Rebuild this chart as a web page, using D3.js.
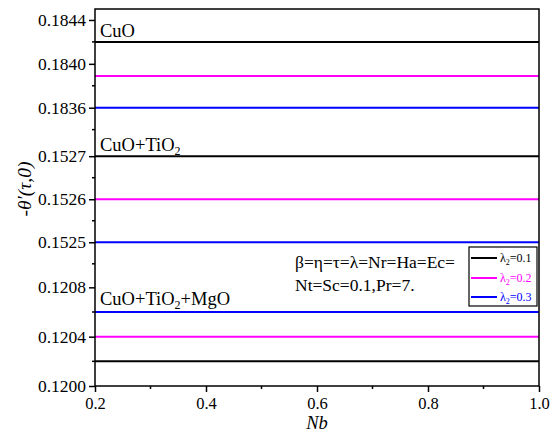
<!DOCTYPE html>
<html>
<head>
<meta charset="utf-8">
<script src="https://cdn.jsdelivr.net/npm/d3@7"></script>
<style>
    body { margin: 0; background: #fff; }
    svg text { font-family: "Liberation Serif", "Times New Roman", Times, serif !important; }
</style>
</head>
<body>
<div class="chart"></div>
<script>
const nb = [0.2, 0.4, 0.6, 0.8, 1.0];
const lambdas = ["0.1", "0.2", "0.3"];
const fluids = ["CuO", "CuO+TiO2", "CuO+TiO2+MgO"];

// -θ'(τ,0) for λ2 = 0.1, 0.2, 0.3
const cuo = [
    [0.18420, 0.18420, 0.18420, 0.18420, 0.18420],
    [0.18389, 0.18389, 0.18389, 0.18389, 0.18389],
    [0.18360, 0.18360, 0.18360, 0.18360, 0.18360]
];
const cuoTio2 = [
    [0.15270, 0.15270, 0.15270, 0.15270, 0.15270],
    [0.15260, 0.15260, 0.15260, 0.15260, 0.15260],
    [0.15250, 0.15250, 0.15250, 0.15250, 0.15250]
];
const cuoTio2Mgo = [
    [0.12020, 0.12020, 0.12020, 0.12020, 0.12020],
    [0.12040, 0.12040, 0.12040, 0.12040, 0.12040],
    [0.12060, 0.12060, 0.12060, 0.12060, 0.12060]
];

const segTicks = [
    ["0.1844", "0.1840", "0.1836"],
    ["0.1527", "0.1526", "0.1525"],
    ["0.1208", "0.1204", "0.1200"]
];
const segMinor = [
    [0.1842, 0.1838, 0.1834],
    [0.15265, 0.15255, 0.15245],
    [0.1206, 0.1202]
];
const xTicks = [0.2, 0.4, 0.6, 0.8, 1.0];
const xMinor = [0.3, 0.5, 0.7, 0.9];
const colors = ["#000000", "#ff00ff", "#0000ff"];

const width = 550, height = 435;
const pLeft = 95, pRight = 539, pTop = 9, pBottom = 386;

const svg = d3.select(".chart").append("svg")
    .attr("width", width).attr("height", height);

const x = d3.scaleLinear().domain([0.2, 1.0]).range([pLeft, pRight]);

const segments = [
    { data: cuo, y: d3.scaleLinear().domain([0.18326, 0.18450]).range([145, pTop]) },
    { data: cuoTio2, y: d3.scaleLinear().domain([0.152424, 0.152726]).range([275, 145]) },
    { data: cuoTio2Mgo, y: d3.scaleLinear().domain([0.1200, 0.12090]).range([pBottom, 275]) }
];

const line = y => d3.line().x((d, i) => x(nb[i])).y(d => y(d));

segments.forEach((seg, si) => {
    seg.data.forEach((vals, k) => {
        svg.append("path")
            .datum(vals)
            .attr("d", line(seg.y))
            .attr("fill", "none")
            .attr("stroke", colors[k])
            .attr("stroke-width", 2);
    });

    const axis = d3.axisLeft(seg.y)
        .tickValues(segTicks[si].map(Number))
        .tickFormat((d, i) => segTicks[si][i])
        .tickSize(6)
        .tickPadding(3)
        .tickSizeOuter(0);
    const g = svg.append("g")
        .attr("transform", `translate(${pLeft},0)`)
        .call(axis)
        .attr("font-family", null);
    g.select(".domain").remove();
    g.selectAll("text").attr("font-size", 17.5).attr("fill", "#000");
    g.selectAll("line").attr("stroke-width", 1.5);

    svg.append("g").selectAll("line")
        .data(segMinor[si])
        .enter().append("line")
        .attr("x1", pLeft - 3).attr("x2", pLeft)
        .attr("y1", d => seg.y(d)).attr("y2", d => seg.y(d))
        .attr("stroke", "#000").attr("stroke-width", 1.5);
});

// x axis
const xg = svg.append("g")
    .attr("transform", `translate(0,${pBottom})`)
    .call(d3.axisBottom(x).tickValues(xTicks).tickFormat(d3.format(".1f")).tickSize(6).tickPadding(5).tickSizeOuter(0))
    .attr("font-family", null);
xg.select(".domain").remove();
xg.selectAll("text").attr("font-size", 16.5).attr("fill", "#000").attr("dy", "0.7em");
xg.selectAll("line").attr("stroke-width", 1.5);
svg.append("g").selectAll("line")
    .data(xMinor).enter().append("line")
    .attr("x1", d => x(d)).attr("x2", d => x(d))
    .attr("y1", pBottom).attr("y2", pBottom + 3)
    .attr("stroke", "#000").attr("stroke-width", 1.5);

// frame
svg.append("rect")
    .attr("x", pLeft).attr("y", pTop)
    .attr("width", pRight - pLeft).attr("height", pBottom - pTop)
    .attr("fill", "none").attr("stroke", "#000").attr("stroke-width", 1.5);

// fluid labels
const labelY = [37, 151, 305];
const label = svg.append("g").attr("font-size", 18.5);
label.append("text").attr("x", 100).attr("y", labelY[0]).text("CuO");
let t = label.append("text").attr("x", 100).attr("y", labelY[1]);
t.append("tspan").text("CuO+TiO");
t.append("tspan").attr("font-size", 12).attr("dy", 4).text("2");
t = label.append("text").attr("x", 100).attr("y", labelY[2]);
t.append("tspan").text("CuO+TiO");
t.append("tspan").attr("font-size", 12).attr("dy", 4).text("2");
t.append("tspan").attr("dy", -4).text("+MgO");

// axis titles
svg.append("text")
    .attr("x", x(0.6)).attr("y", 429)
    .attr("text-anchor", "middle")
    .attr("font-size", 18.5).attr("font-style", "italic")
    .text("Nb");

svg.append("text")
    .attr("transform", "translate(31,189) rotate(-90)")
    .attr("text-anchor", "middle")
    .attr("font-size", 19.5)
    .attr("font-style", "italic")
    .text("-θ′(τ,0)");

// parameters note
const note = svg.append("g").attr("font-size", 17.5);
note.append("text").attr("x", 295).attr("y", 268).text("β=η=τ=λ=Nr=Ha=Ec=");
note.append("text").attr("x", 295).attr("y", 291).text("Nt=Sc=0.1,Pr=7.");

// legend
const lg = svg.append("g");
lg.append("rect")
    .attr("x", 469).attr("y", 247).attr("width", 68).attr("height", 59)
    .attr("fill", "#fff").attr("stroke", "#000").attr("stroke-width", 1.2);
const legendY = [258, 278, 297];
lambdas.forEach((lam, k) => {
    lg.append("line")
        .attr("x1", 471).attr("x2", 497)
        .attr("y1", legendY[k]).attr("y2", legendY[k])
        .attr("stroke", colors[k]).attr("stroke-width", 2);
    const tx = lg.append("text")
        .attr("x", 500).attr("y", legendY[k] + 4)
        .attr("font-size", 12).attr("fill", colors[k]);
    tx.append("tspan").text("λ");
    tx.append("tspan").attr("font-size", 8).attr("dy", 3).text("2");
    tx.append("tspan").attr("dy", -3).text("=" + lam);
});
</script>
</body>
</html>
